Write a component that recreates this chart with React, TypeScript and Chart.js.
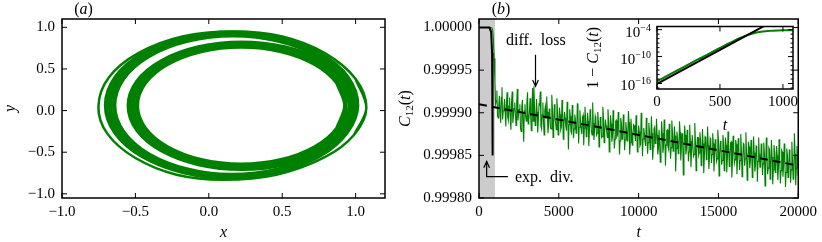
import React, { useEffect, useRef } from "react";
import { Chart, registerables } from "chart.js";
Chart.register(...registerables);

const FONT = "'Liberation Serif', 'Times New Roman', serif";
const GREEN = "#008000";
const TICK_FONT = { family: FONT, size: 15 };

// ---------- Panel (a): phase portrait ----------
const A_X_TICKS = [-1, -0.5, 0, 0.5, 1];
const A_Y_TICKS = [-1, -0.5, 0, 0.5, 1];
const A_X_MIN = -1.0, A_X_MAX = 1.2;
const A_Y_MIN = -1.05, A_Y_MAX = 1.1;

const LOOP_OUTER = [[1.073,0.03],[1.0,0.38],[0.79,0.69],[0.50,0.89],[0.17,0.95],[-0.18,0.89],[-0.48,0.69],[-0.68,0.40],[-0.752,0.05],[-0.69,-0.28],[-0.50,-0.57],[-0.22,-0.77],[0.10,-0.83],[0.46,-0.77],[0.79,-0.56],[0.99,-0.29]];
const LOOP_B_OUT = [[1.01,0.065],[0.945,0.398],[0.759,0.68],[0.482,0.869],[0.155,0.935],[-0.172,0.869],[-0.449,0.68],[-0.635,0.398],[-0.70,0.065],[-0.635,-0.268],[-0.449,-0.55],[-0.172,-0.739],[0.13,-0.805],[0.47,-0.735],[0.76,-0.535],[0.94,-0.26]];
const LOOP_B_MID = [[0.993,0.065],[0.929,0.393],[0.749,0.67],[0.479,0.855],[0.16,0.92],[-0.159,0.855],[-0.429,0.67],[-0.609,0.393],[-0.673,0.065],[-0.609,-0.263],[-0.429,-0.54],[-0.159,-0.725],[0.14,-0.79],[0.47,-0.722],[0.748,-0.53],[0.925,-0.257]];
const LOOP_B_IN = [[0.975,0.065],[0.913,0.387],[0.738,0.659],[0.475,0.841],[0.165,0.905],[-0.145,0.841],[-0.408,0.659],[-0.583,0.387],[-0.645,0.065],[-0.583,-0.257],[-0.408,-0.529],[-0.145,-0.711],[0.15,-0.775],[0.47,-0.71],[0.736,-0.522],[0.91,-0.253]];
const LOOP_C_OUT = [[0.99,0.058],[0.932,0.348],[0.765,0.593],[0.516,0.757],[0.223,0.815],[-0.071,0.757],[-0.32,0.593],[-0.487,0.348],[-0.545,0.058],[-0.487,-0.232],[-0.32,-0.478],[-0.071,-0.642],[0.223,-0.70],[0.516,-0.642],[0.765,-0.478],[0.932,-0.232]];
const LOOP_C_MID = [[0.96,0.059],[0.904,0.34],[0.744,0.578],[0.504,0.737],[0.221,0.793],[-0.062,0.737],[-0.301,0.578],[-0.462,0.34],[-0.518,0.059],[-0.462,-0.222],[-0.301,-0.46],[-0.062,-0.619],[0.221,-0.675],[0.504,-0.619],[0.744,-0.46],[0.904,-0.222]];
const LOOP_C_IN = [[0.93,0.06],[0.876,0.332],[0.722,0.562],[0.492,0.716],[0.22,0.77],[-0.052,0.716],[-0.282,0.562],[-0.436,0.332],[-0.49,0.06],[-0.436,-0.212],[-0.282,-0.442],[-0.052,-0.596],[0.22,-0.65],[0.492,-0.596],[0.722,-0.442],[0.876,-0.212]];

// ---------- Panel (b): C12(t) ----------
const B_X_TICKS = [0, 5000, 10000, 15000, 20000];
const B_Y_TICKS = [0.9998, 0.99985, 0.9999, 0.99995, 1.0];
const B_X_MIN = 0, B_X_MAX = 20000;
const B_Y_MIN = 0.9998, B_Y_MAX = 1.00001;
const SHADE_T = [0, 1000];

// 1 - C12 in units of 1e-5
const DROP_T = [0, 600, 800, 860, 900, 950, 1000];
const DROP_D = [0, 0, 0.02, 0.3, 1.3, 3.6, 6.4];
const NOISE_T0 = 1040;
const NOISE_DT = 40;
// samples at t = 1040, 1120, 1200, ...
const NOISE_D_A = [
  9.0, 7.4, 10.6, 8.0, 11.2, 7.0, 9.8, 8.4, 11.6, 7.6,
  10.9, 8.2, 12.0, 7.5, 10.4, 8.8, 11.5, 7.2, 10.1, 9.0,
  12.2, 8.5, 13.4, 9.0, 11.0, 7.6, 10.8, 8.3, 12.1, 7.1,
  6.9, 11.5, 8.4, 12.3, 9.0, 7.5, 11.9, 8.8, 12.6, 9.2,
  8.1, 12.4, 9.5, 11.8, 7.9, 12.9, 9.0, 11.2, 8.3, 12.6,
  9.4, 12.0, 8.5, 13.1, 9.9, 11.6, 8.7, 14.3, 9.6, 12.2,
  9.1, 13.0, 10.2, 12.4, 8.9, 13.6, 9.7, 12.0, 10.6, 13.8,
  9.3, 12.8, 10.0, 13.9, 9.6, 12.1, 8.8, 13.2, 10.4, 12.6,
  9.9, 14.0, 10.5, 12.9, 9.3, 13.5, 10.8, 12.2, 9.6, 14.6,
  10.3, 13.4, 9.7, 14.2, 11.0, 12.8, 9.9, 14.9, 10.6, 13.1,
  10.2, 14.4, 11.1, 13.3, 9.8, 14.9, 10.7, 13.8, 11.4, 12.5,
  10.3, 14.6, 11.5, 13.9, 10.0, 15.1, 11.8, 13.4, 10.6, 14.8,
  11.2, 14.3, 10.4, 15.5, 11.9, 13.6, 10.7, 14.9, 12.0, 15.8,
  11.0, 14.7, 10.8, 16.2, 12.1, 14.0, 11.3, 15.4, 10.9, 14.5,
  11.6, 16.9, 12.2, 14.8, 11.0, 15.6, 12.4, 17.3, 11.5, 14.9,
  12.0, 15.7, 11.4, 16.4, 12.6, 15.1, 11.2, 16.8, 12.9, 15.0,
  12.3, 16.2, 11.9, 17.1, 12.8, 15.5, 11.6, 16.6, 13.0, 15.9,
  12.4, 16.9, 13.1, 15.7, 12.0, 17.4, 13.3, 16.1, 12.6, 16.8,
  12.9, 17.0, 12.2, 16.3, 13.5, 17.6, 12.7, 15.9, 13.2, 17.2,
  13.0, 16.7, 12.5, 17.5, 13.6, 16.2, 12.3, 17.9, 13.4, 16.5,
  13.2, 17.6, 12.8, 16.9, 13.9, 18.1, 12.9, 16.4, 13.6, 17.3,
  13.5, 18.6, 12.9, 17.2, 14.1, 17.8, 13.2, 18.4, 13.8, 17.0,
  13.9, 17.9, 13.1, 18.3, 14.4, 17.5, 13.6, 18.7, 14.2, 17.6,
  14.3, 18.2, 13.4, 17.8, 12.4, 18.5, 13.9, 17.4,
];
// samples at t = 1080, 1160, 1240, ...
const NOISE_D_B = [
  8.6, 10.3, 9.1, 9.9, 8.2, 10.8, 9.4, 10.0, 8.8, 10.5,
  9.2, 10.6, 8.7, 11.2, 9.5, 10.1, 8.9, 10.9, 9.6, 11.8,
  9.3, 10.9, 9.8, 10.4, 8.8, 11.3, 9.9, 10.6, 9.2, 11.0,
  9.6, 11.0, 9.9, 10.8, 9.1, 11.6, 10.2, 11.1, 9.7, 10.6,
  9.9, 11.4, 10.1, 11.9, 9.6, 11.2, 10.5, 12.0, 10.0, 11.3,
  10.2, 11.7, 9.8, 11.5, 10.6, 12.1, 10.0, 11.4, 10.4, 12.4,
  10.4, 11.9, 10.8, 12.2, 10.1, 11.7, 10.9, 12.5, 10.3, 11.8,
  10.7, 12.3, 11.0, 12.0, 10.4, 12.6, 11.2, 12.1, 10.8, 12.4,
  11.0, 12.5, 11.3, 12.8, 10.6, 12.2, 11.5, 12.9, 11.1, 12.4,
  11.3, 12.8, 11.6, 13.1, 10.9, 12.6, 11.8, 13.3, 11.2, 12.9,
  11.6, 13.2, 11.9, 12.8, 11.1, 13.5, 12.0, 13.0, 11.5, 13.3,
  11.9, 13.4, 12.2, 13.7, 11.5, 13.1, 12.4, 13.9, 11.8, 13.5,
  12.1, 13.6, 12.4, 14.0, 11.7, 13.4, 12.6, 14.2, 12.0, 13.8,
  12.4, 14.0, 12.7, 13.8, 12.0, 14.3, 12.9, 14.1, 12.3, 13.9,
  12.7, 14.2, 13.0, 14.6, 12.3, 14.0, 13.2, 14.8, 12.6, 14.3,
  13.0, 14.6, 13.3, 14.4, 12.6, 14.9, 13.5, 14.5, 12.9, 14.7,
  13.3, 14.8, 13.6, 15.1, 12.9, 14.6, 13.8, 15.3, 13.2, 14.9,
  13.6, 15.1, 13.9, 15.4, 13.2, 14.9, 14.1, 15.6, 13.5, 15.2,
  13.8, 15.4, 14.1, 15.2, 13.4, 15.7, 14.3, 15.5, 13.7, 15.3,
  14.1, 15.6, 14.4, 15.9, 13.7, 15.4, 14.6, 16.1, 14.0, 15.7,
  14.4, 15.9, 14.7, 16.2, 14.0, 15.7, 14.9, 16.4, 14.3, 16.0,
  14.7, 16.2, 15.0, 16.5, 14.3, 16.0, 15.2, 16.7, 14.6, 16.3,
  15.0, 16.5, 15.3, 16.8, 14.6, 16.3, 15.5, 17.0, 14.9, 16.6,
  15.2, 16.7, 15.5, 17.0, 14.8, 16.5, 15.7,
];
const TREND_T = [0, 20000];
const TREND_C = [0.99991, 0.999838];
const FIT_T = [0, 650, 760, 820, 845, 856, 858];
const FIT_C = [1.0, 1.0, 0.999995, 0.99997, 0.99993, 0.99989, 0.99985];

const DIFF_TEXT = [3560, 0.999986];
const DIFF_TAIL = [3540, 0.999968];
const DIFF_TIP = [3540, 0.999931];
const EXP_TEXT = [2250, 0.999825];
const EXP_TAIL = [1810, 0.999825];
const EXP_CORNER = [480, 0.999825];
const EXP_TIP = [480, 0.999843];

// ---------- Inset: 1 - C12(t), log ----------
const I_X_TICKS = [0, 500, 1000];
const I_Y_TICKS = [1e-16, 1e-10, 1e-4];
const I_Y_MINOR = [1e-17, 1e-15, 1e-14, 1e-13, 1e-12, 1e-11, 1e-9, 1e-8, 1e-7, 1e-6, 1e-5];
const I_Y_EXP_LABELS = ["\u221216", "\u221210", "\u22124"];
const I_X_MIN = 0, I_X_MAX = 1080;
const I_Y_MIN = 6e-18, I_Y_MAX = 5e-4;
const I_GREEN_T = [0,40,80,120,160,200,240,280,320,360,400,440,480,520,560,600,640,680,720,760,800,840,880,920,960,1000,1040,1080];
const I_GREEN_E = [-15.45,-14.9,-14.3,-13.7,-13.1,-12.5,-11.9,-11.3,-10.7,-10.15,-9.55,-8.95,-8.35,-7.8,-7.2,-6.65,-6.05,-5.6,-5.2,-4.85,-4.6,-4.42,-4.3,-4.22,-4.18,-4.16,-4.15,-4.15];
const I_FIT_T = [0, 900];
const I_FIT_E = [-16.07, -2.45];

// ---------- helpers ----------
type Seg = { t: string; it?: boolean; s: number; dy?: number };
function drawRich(ctx: any, segs: Seg[], x: number, y: number, align: string, rot = 0) {
  ctx.save();
  ctx.translate(x, y);
  if (rot) ctx.rotate(rot);
  ctx.textBaseline = "alphabetic";
  ctx.textAlign = "left";
  ctx.fillStyle = "#000";
  const fonts = segs.map((g) => `${g.it ? "italic " : ""}${g.s}px ${FONT}`);
  const ws = segs.map((g, i) => { ctx.font = fonts[i]; return ctx.measureText(g.t).width; });
  const w = ws.reduce((a, b) => a + b, 0);
  let cx = align === "left" ? 0 : align === "center" ? -w / 2 : -w;
  const base = segs[0].s * 0.33;
  segs.forEach((g, i) => {
    ctx.font = fonts[i];
    ctx.fillText(g.t, cx, base + (g.dy || 0));
    cx += ws[i];
  });
  ctx.restore();
}

function drawFrame(chart: any, xt: number[], yt: number[], yMinor: number[] = []) {
  const { ctx, chartArea: a, scales } = chart;
  const xs = scales.x, ys = scales.y;
  ctx.save();
  ctx.strokeStyle = "#000";
  ctx.lineWidth = 1;
  ctx.beginPath();
  const L = 5, Lm = 2.5;
  for (const v of xt) {
    const p = xs.getPixelForValue(v);
    if (p < a.left - 0.5 || p > a.right + 0.5) continue;
    ctx.moveTo(p, a.bottom); ctx.lineTo(p, a.bottom - L);
    ctx.moveTo(p, a.top); ctx.lineTo(p, a.top + L);
  }
  for (const v of yt) {
    const p = ys.getPixelForValue(v);
    if (p < a.top - 0.5 || p > a.bottom + 0.5) continue;
    ctx.moveTo(a.left, p); ctx.lineTo(a.left + L, p);
    ctx.moveTo(a.right, p); ctx.lineTo(a.right - L, p);
  }
  for (const v of yMinor) {
    const p = ys.getPixelForValue(v);
    if (p < a.top - 0.5 || p > a.bottom + 0.5) continue;
    ctx.moveTo(a.left, p); ctx.lineTo(a.left + Lm, p);
    ctx.moveTo(a.right, p); ctx.lineTo(a.right - Lm, p);
  }
  ctx.stroke();
  ctx.lineWidth = 1.5;
  ctx.strokeRect(a.left, a.top, a.right - a.left, a.bottom - a.top);
  ctx.restore();
}

function arrowHead(ctx: any, x: number, y: number, ang: number) {
  const L = 7, W = 0.42;
  ctx.beginPath();
  ctx.moveTo(x - L * Math.cos(ang - W), y - L * Math.sin(ang - W));
  ctx.lineTo(x, y);
  ctx.lineTo(x - L * Math.cos(ang + W), y - L * Math.sin(ang + W));
  ctx.stroke();
}

function fmtSigned(v: number) {
  return (v < 0 ? "\u2212" : "") + Math.abs(v).toFixed(1);
}

function axisBase(min: number, max: number, ticks: number[], fmt: (v: number) => string, fit: (s: any) => void, pad: number, show = true) {
  return {
    type: "linear",
    min, max,
    grid: { display: false, drawTicks: false },
    border: { display: false },
    ticks: { display: show, font: TICK_FONT, color: "#000", padding: pad, autoSkip: false, maxRotation: 0, minRotation: 0, callback: (v: any) => fmt(Number(v)) },
    afterBuildTicks: (s: any) => { s.ticks = ticks.map((v) => ({ value: v })); },
    afterFit: fit,
  };
}

const loopData = (pts: number[][]) => {
  const n = pts.length;
  const seq = [pts[n - 1], ...pts, pts[0], pts[1]];
  return seq.map(([x, y]) => ({ x, y }));
};

const lineDs = (data: any[], color: string, width: number, extra: any = {}) => ({
  data, showLine: true, borderColor: color, borderWidth: width, pointRadius: 0, fill: false, tension: 0, ...extra,
});

export default function App() {
  const aRef = useRef<HTMLCanvasElement>(null);
  const bRef = useRef<HTMLCanvasElement>(null);
  const cRef = useRef<HTMLCanvasElement>(null);

  useEffect(() => {
    const charts: any[] = [];
    const common = { responsive: false, animation: false, events: [], plugins: { legend: { display: false }, tooltip: { enabled: false } } };

    // ---- Panel (a)
    const loops = [
      { p: LOOP_C_IN, w: 4.5 }, { p: LOOP_C_MID, w: 4.5 }, { p: LOOP_C_OUT, w: 4.5 },
      { p: LOOP_B_IN, w: 4.5 }, { p: LOOP_B_MID, w: 4.5 }, { p: LOOP_B_OUT, w: 4.5 },
      { p: LOOP_OUTER, w: 2.5 },
    ];
    charts.push(new Chart(aRef.current as any, {
      type: "scatter",
      data: { datasets: loops.map((l) => lineDs(loopData(l.p), GREEN, l.w, { tension: 0.35 })) },
      options: {
        ...common,
        layout: { padding: { top: 19, right: 5, left: 0, bottom: 0 } },
        scales: {
          x: axisBase(A_X_MIN, A_X_MAX, A_X_TICKS, fmtSigned, (s: any) => { s.height = 44; }, 5),
          y: axisBase(A_Y_MIN, A_Y_MAX, A_Y_TICKS, fmtSigned, (s: any) => { s.width = 62; }, 7),
        },
      } as any,
      plugins: [{
        id: "frameA",
        afterDraw(chart: any) {
          drawFrame(chart, A_X_TICKS, A_Y_TICKS);
          const a = chart.chartArea, ctx = chart.ctx;
          drawRich(ctx, [{ t: "(", s: 16 }, { t: "a", it: true, s: 16 }, { t: ")", s: 16 }], a.left + 21.5, 9, "center");
          drawRich(ctx, [{ t: "x", it: true, s: 16 }], (a.left + a.right) / 2, a.bottom + 34, "center");
          drawRich(ctx, [{ t: "y", it: true, s: 16 }], a.left - 52, (a.top + a.bottom) / 2, "center", -Math.PI / 2);
        },
      }],
    } as any));

    // ---- Panel (b)
    const noise: any[] = [];
    NOISE_D_A.forEach((d, i) => {
      noise.push({ x: NOISE_T0 + 2 * i * NOISE_DT, y: 1 - d * 1e-5 });
      if (i < NOISE_D_B.length) noise.push({ x: NOISE_T0 + (2 * i + 1) * NOISE_DT, y: 1 - NOISE_D_B[i] * 1e-5 });
    });
    const green = [
      ...DROP_T.map((t, i) => ({ x: t, y: 1 - DROP_D[i] * 1e-5 })),
      ...noise,
    ];
    charts.push(new Chart(bRef.current as any, {
      type: "scatter",
      data: {
        datasets: [
          lineDs(green, GREEN, 1.1, { order: 3 }),
          lineDs(TREND_T.map((t, i) => ({ x: t, y: TREND_C[i] })), "#000", 2, { order: 2, borderDash: [8, 5] }),
          lineDs(FIT_T.map((t, i) => ({ x: t, y: FIT_C[i] })), "#000", 2, { order: 1 }),
        ],
      },
      options: {
        ...common,
        layout: { padding: { top: 19, right: 23, left: 0, bottom: 0 } },
        scales: {
          x: axisBase(B_X_MIN, B_X_MAX, B_X_TICKS, (v) => String(v), (s: any) => { s.height = 44; }, 5),
          y: axisBase(B_Y_MIN, B_Y_MAX, B_Y_TICKS, (v) => v.toFixed(5), (s: any) => { s.width = 89; }, 7),
        },
      } as any,
      plugins: [{
        id: "shadeB",
        beforeDatasetsDraw(chart: any) {
          const { ctx, chartArea: a, scales } = chart;
          const x0 = scales.x.getPixelForValue(SHADE_T[0]);
          const x1 = scales.x.getPixelForValue(SHADE_T[1]);
          ctx.save();
          ctx.fillStyle = "rgb(204,204,204)";
          ctx.fillRect(x0, a.top, x1 - x0, a.bottom - a.top);
          ctx.restore();
        },
        afterDraw(chart: any) {
          const { ctx, chartArea: a, scales } = chart;
          const X = (v: number) => scales.x.getPixelForValue(v);
          const Y = (v: number) => scales.y.getPixelForValue(v);
          ctx.save();
          ctx.strokeStyle = "#000";
          ctx.lineWidth = 1.2;
          drawRich(ctx, [{ t: "diff.  loss", s: 16 }], X(DIFF_TEXT[0]), Y(DIFF_TEXT[1]), "center");
          ctx.beginPath();
          ctx.moveTo(X(DIFF_TAIL[0]), Y(DIFF_TAIL[1]));
          ctx.lineTo(X(DIFF_TIP[0]), Y(DIFF_TIP[1]));
          ctx.stroke();
          arrowHead(ctx, X(DIFF_TIP[0]), Y(DIFF_TIP[1]), Math.PI / 2);
          drawRich(ctx, [{ t: "exp.  div.", s: 16 }], X(EXP_TEXT[0]), Y(EXP_TEXT[1]), "left");
          ctx.beginPath();
          ctx.moveTo(X(EXP_TAIL[0]), Y(EXP_TAIL[1]));
          ctx.lineTo(X(EXP_CORNER[0]), Y(EXP_CORNER[1]));
          ctx.lineTo(X(EXP_TIP[0]), Y(EXP_TIP[1]));
          ctx.stroke();
          arrowHead(ctx, X(EXP_TIP[0]), Y(EXP_TIP[1]), -Math.PI / 2);
          ctx.restore();
          drawFrame(chart, B_X_TICKS, B_Y_TICKS);
          drawRich(ctx, [{ t: "(", s: 16 }, { t: "b", it: true, s: 16 }, { t: ")", s: 16 }], a.left + 22, 9, "center");
          drawRich(ctx, [{ t: "t", it: true, s: 16 }], (a.left + a.right) / 2, a.bottom + 34, "center");
          drawRich(ctx, [{ t: "C", it: true, s: 16 }, { t: "12", s: 11, dy: 3 }, { t: "(", s: 16 }, { t: "t", it: true, s: 16 }, { t: ")", s: 16 }], a.left - 74, (a.top + a.bottom) / 2, "center", -Math.PI / 2);
        },
      }],
    } as any));

    // ---- Inset
    charts.push(new Chart(cRef.current as any, {
      type: "scatter",
      data: {
        datasets: [
          lineDs(I_FIT_T.map((t, i) => ({ x: t, y: Math.pow(10, I_FIT_E[i]) })), "#000", 2, { order: 1 }),
          lineDs(I_GREEN_T.map((t, i) => ({ x: t, y: Math.pow(10, I_GREEN_E[i]) })), GREEN, 2, { order: 2 }),
        ],
      },
      options: {
        ...common,
        layout: { padding: { top: 26.5, right: 17, left: 0, bottom: 0 } },
        scales: {
          x: axisBase(I_X_MIN, I_X_MAX, I_X_TICKS, (v) => String(v), (s: any) => { s.height = 51; }, 4),
          y: {
            type: "logarithmic",
            min: I_Y_MIN, max: I_Y_MAX,
            grid: { display: false, drawTicks: false },
            border: { display: false },
            ticks: { display: false },
            afterBuildTicks: (s: any) => { s.ticks = I_Y_TICKS.map((v) => ({ value: v })); },
            afterFit: (s: any) => { s.width = 77; },
          },
        },
      } as any,
      plugins: [{
        id: "insetFrame",
        beforeDatasetsDraw(chart: any) {
          const { ctx, chartArea: a } = chart;
          ctx.save();
          ctx.fillStyle = "#fff";
          ctx.fillRect(a.left, a.top, a.right - a.left, a.bottom - a.top);
          ctx.restore();
        },
        afterDraw(chart: any) {
          const { ctx, chartArea: a, scales } = chart;
          drawFrame(chart, I_X_TICKS, I_Y_TICKS, I_Y_MINOR);
          I_Y_TICKS.forEach((v, i) => {
            const p = scales.y.getPixelForValue(v);
            drawRich(ctx, [{ t: "10", s: 15 }, { t: I_Y_EXP_LABELS[i], s: 10, dy: -6 }], a.left - 6, p + 2, "right");
          });
          drawRich(ctx, [{ t: "t", it: true, s: 16 }], (a.left + a.right) / 2, a.bottom + 36, "center");
          drawRich(ctx, [{ t: "1 \u2212 ", s: 16 }, { t: "C", it: true, s: 16 }, { t: "12", s: 11, dy: 3 }, { t: "(", s: 16 }, { t: "t", it: true, s: 16 }, { t: ")", s: 16 }], a.left - 64, (a.top + a.bottom) / 2, "center", -Math.PI / 2);
        },
      }],
    } as any));

    return () => charts.forEach((c) => c.destroy());
  }, []);

  return (
    <div style={{ position: "absolute", left: 0, top: 0, width: 822, height: 242, background: "#fff", overflow: "hidden" }}>
      <canvas ref={aRef} width={390} height={242} style={{ position: "absolute", left: 0, top: 0, width: 390, height: 242 }} />
      <canvas ref={bRef} width={432} height={242} style={{ position: "absolute", left: 390, top: 0, width: 432, height: 242 }} />
      <canvas ref={cRef} width={230} height={140} style={{ position: "absolute", left: 580, top: 0, width: 230, height: 140 }} />
    </div>
  );
}
